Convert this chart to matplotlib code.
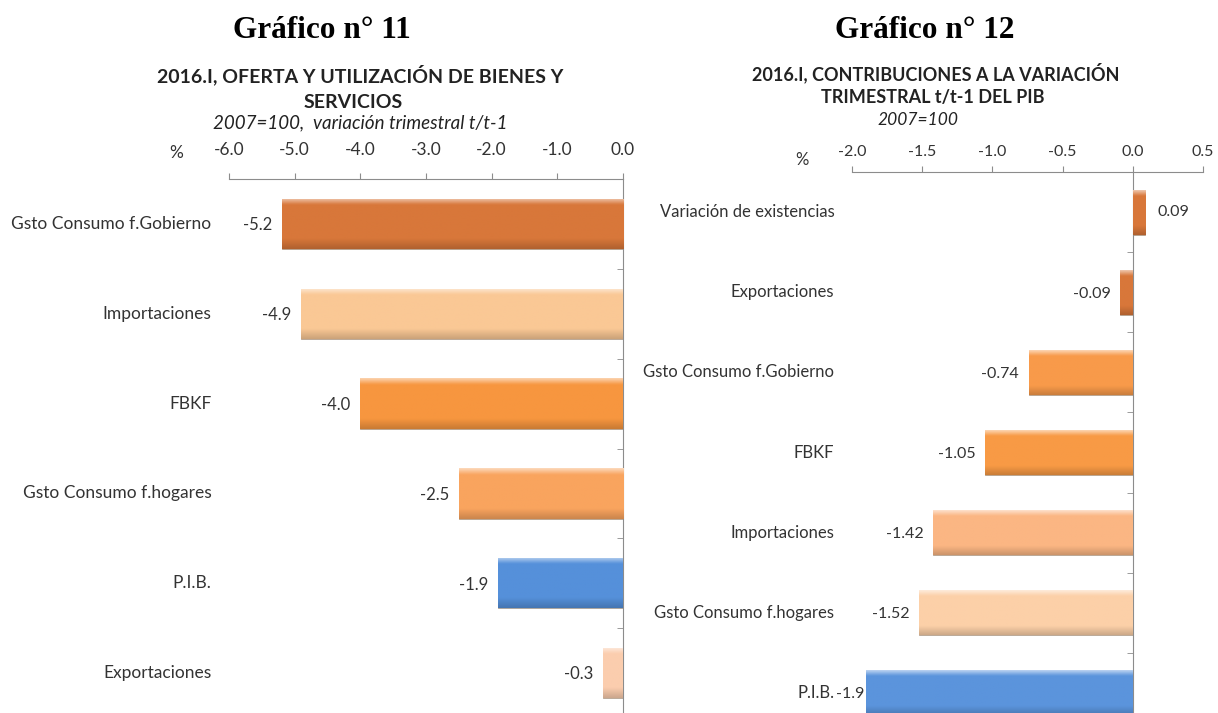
import numpy as np
import matplotlib
matplotlib.use("Agg")
import matplotlib.pyplot as plt
from matplotlib.colors import to_rgb

plt.rcParams['font.family'] = ['Lato', 'DejaVu Sans']

# Gráfico 11: oferta y utilización
cats11 = ['Gsto Consumo f.Gobierno', 'Importaciones', 'FBKF',
          'Gsto Consumo f.hogares', 'P.I.B.', 'Exportaciones']
vals11 = [-5.2, -4.9, -4.0, -2.5, -1.9, -0.3]
cols11 = ['#D8773A', '#FAC895', '#F7963F', '#F9A45E', '#5590DA', '#FBCDAE']
ticks11 = [-6.0, -5.0, -4.0, -3.0, -2.0, -1.0, 0.0]

# Gráfico 12: contribuciones
cats12 = ['Variación de existencias', 'Exportaciones', 'Gsto Consumo f.Gobierno',
          'FBKF', 'Importaciones', 'Gsto Consumo f.hogares', 'P.I.B.']
vals12 = [0.09, -0.09, -0.74, -1.05, -1.42, -1.52, -1.9]
lbls12 = ['0.09', '-0.09', '-0.74', '-1.05', '-1.42', '-1.52', '-1.9']
cols12 = ['#D8773A', '#D8773A', '#F89A4A', '#F89A45', '#FBB683', '#FCD0A8', '#5B94DC']
ticks12 = [-2.0, -1.5, -1.0, -0.5, 0.0, 0.5]


def shade(ax, bars, colors):
    # fake the excel bevel: light top, darker bottom
    t = np.linspace(0, 1, 40)
    for b, c in zip(bars, colors):
        rgb = np.array(to_rgb(c))
        light = rgb + (1 - rgb) * 0.55
        dark = rgb * 0.82
        grad = np.empty((len(t), 3))
        for i, v in enumerate(t):
            if v < 0.12:
                grad[i] = light + (rgb - light) * (v / 0.12)
            elif v < 0.8:
                grad[i] = rgb
            else:
                grad[i] = rgb + (dark - rgb) * ((v - 0.8) / 0.2)
        x0, y0 = b.get_x(), b.get_y()
        w, h = b.get_width(), b.get_height()
        im = ax.imshow(grad[:, None, :], extent=(x0, x0 + w, y0 + h, y0),
                       aspect='auto', zorder=3, interpolation='bilinear')
        im.set_clip_path(b)


def draw(ax, cats, vals, lbls, cols, ticks, label_x, fs, tick_fs, pad):
    y = np.arange(len(cats))
    bars = ax.barh(y, vals, height=0.56, color=cols, edgecolor='#b0a090',
                   linewidth=0.6, zorder=2)
    shade(ax, bars, cols)
    ax.set_xlim(ticks[0], ticks[-1])
    ax.set_ylim(len(cats) - 0.5, -0.5)
    ax.xaxis.tick_top()
    ax.set_xticks(ticks)
    ax.set_xticklabels([f'{v:.1f}' for v in ticks])
    ax.tick_params(axis='x', direction='out', length=4, color='#8c8c8c',
                   labelsize=tick_fs, labelcolor='#333333', pad=pad)
    for s in ['right', 'bottom']:
        ax.spines[s].set_visible(False)
    ax.spines['top'].set_color('#8c8c8c')
    ax.spines['left'].set_color('#8c8c8c')
    ax.spines['left'].set_position(('data', 0))
    ax.set_yticks([])
    ax.set_yticks(np.arange(len(cats) - 1) + 0.5, minor=True)
    ax.tick_params(axis='y', which='minor', direction='out', length=4,
                   color='#8c8c8c', labelleft=False)
    ax.set_zorder(1)
    span = ticks[-1] - ticks[0]
    for yi, c in zip(y, cats):
        ax.text(label_x, yi, c, transform=ax.get_yaxis_transform(),
                ha='right', va='center', fontsize=fs, color='#333333')
    for yi, v, s in zip(y, vals, lbls):
        if v < 0:
            # label hugging the axis edge gets pushed right up to the bar
            dx = -1 if (v - ticks[0]) < 0.05 * span else -7
            ax.annotate(s, (v, yi), xytext=(dx, -1), textcoords='offset points',
                        ha='right', va='center', fontsize=fs - 0.5, color='#333333')
        else:
            ax.annotate(s, (v, yi), xytext=(9, 0), textcoords='offset points',
                        ha='left', va='center', fontsize=fs - 0.5, color='#333333')


fig = plt.figure(figsize=(12.18, 7.13), dpi=100)

ax1 = fig.add_axes([229 / 1218, 1 - 718 / 713, 394 / 1218, 539 / 713])
draw(ax1, cats11, vals11, [f'{v:.1f}' for v in vals11], cols11, ticks11,
     -0.045, 12.5, 12.5, 11)

ax2 = fig.add_axes([852 / 1218, 1 - 733 / 713, 351 / 1218, 561 / 713])
draw(ax2, cats12, vals12, lbls12, cols12, ticks12, -0.05, 12, 11.5, 5.5)

# titles
fig.text(322 / 1218, 1 - 30 / 713, 'Gráfico n° 11', family='Liberation Serif',
         weight='bold', fontsize=22.5, ha='center', va='center')
fig.text(925 / 1218, 1 - 30 / 713, 'Gráfico n° 12', family='Liberation Serif',
         weight='bold', fontsize=22.5, ha='center', va='center')

fig.text(360 / 1218, 1 - 75 / 713, '2016.I, OFERTA Y UTILIZACIÓN DE BIENES Y',
         weight='bold', fontsize=14, ha='center', va='center', color='#222222')
fig.text(353 / 1218, 1 - 102 / 713, 'SERVICIOS',
         weight='bold', fontsize=14, ha='center', va='center', color='#222222')
fig.text(360 / 1218, 1 - 123 / 713, '2007=100,  variación trimestral t/t-1',
         style='italic', fontsize=13.5, ha='center', va='center', color='#222222')
fig.text(176 / 1218, 1 - 153 / 713, '%', fontsize=12.5, ha='center', va='center',
         color='#333333')

fig.text(936 / 1218, 1 - 73 / 713, '2016.I, CONTRIBUCIONES A LA VARIACIÓN',
         weight='bold', fontsize=13, ha='center', va='center', color='#222222')
fig.text(933 / 1218, 1 - 98 / 713, 'TRIMESTRAL t/t-1 DEL PIB',
         weight='bold', fontsize=13, ha='center', va='center', color='#222222')
fig.text(918 / 1218, 1 - 120 / 713, '2007=100',
         style='italic', fontsize=12.5, ha='center', va='center', color='#222222')
fig.text(802 / 1218, 1 - 160 / 713, '%', fontsize=12, ha='center', va='center',
         color='#333333')

fig.savefig('out.png', dpi=100)
